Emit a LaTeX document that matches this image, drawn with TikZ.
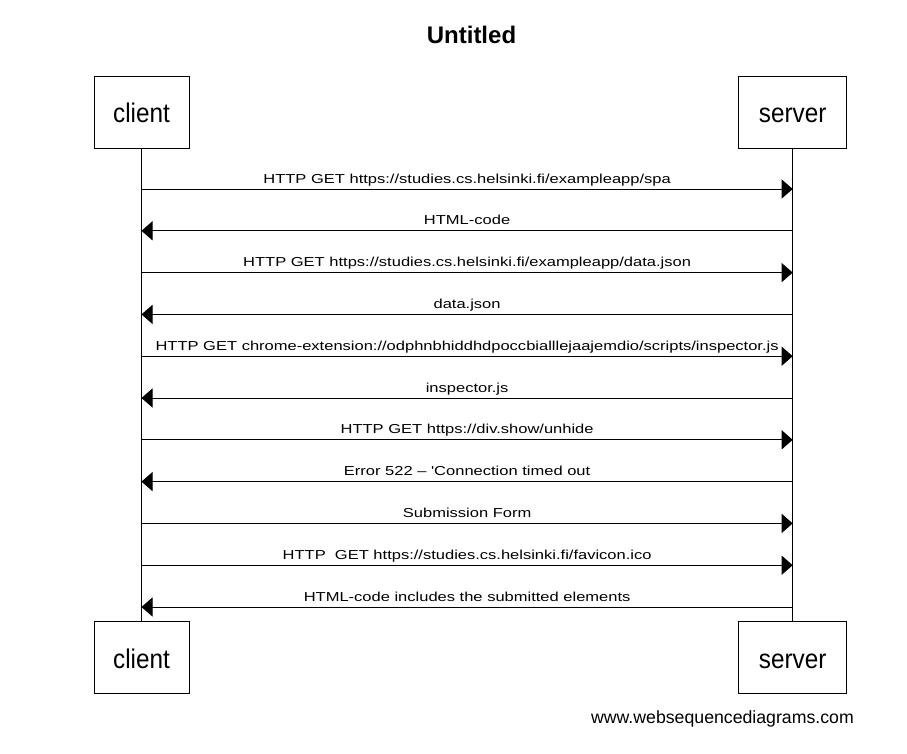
\documentclass[tikz,border=0pt]{standalone}
\usepackage{fontspec}
\setmainfont{Liberation Sans}
\newfontfamily\labfont[FakeStretch=1.27,Ligatures={TeXOff,NoCommon}]{Liberation Sans}
\newfontfamily\boxfont[FakeStretch=0.9]{Liberation Sans}
\usetikzlibrary{arrows.meta}
\begin{document}
\begin{tikzpicture}[x=1pt,y=-1pt,
  actor/.style={draw, line width=1pt, minimum width=95pt, minimum height=72pt, inner sep=0pt,
    font=\boxfont\fontsize{27}{30}\selectfont, text height=21.4pt, text depth=0pt},
  life/.style={draw, line width=1pt},
  msg/.style={line width=1pt, -{Triangle[length=11pt,width=19pt]}},
  lab/.style={anchor=base, inner sep=0pt, font=\labfont\fontsize{13}{15}\selectfont}]
\useasboundingbox (0,0) rectangle (907,753);
\fill[white] (0,0) rectangle (907,753);
\node[anchor=base, font=\fontsize{24}{28}\selectfont\bfseries] (title) at (471.5,43.3) {Untitled};
\node[actor] (ct) at (141.5,112) {client};
\node[actor, minimum width=108pt] (st) at (792.7,112) {server};
\node[actor] (cb) at (141.5,657.5) {client};
\node[actor, minimum width=108pt] (sb) at (792.7,657.5) {server};
\draw[life] (ct.south) -- (cb.north);
\draw[life] (st.south) -- (sb.north);
\foreach \i/\y/\d/\t in {
  1/189/r/{HTTP GET https://studies.cs.helsinki.fi/exampleapp/spa},
  2/230.8/l/{HTML-code},
  3/272.6/r/{HTTP GET https://studies.cs.helsinki.fi/exampleapp/data.json},
  4/314.4/l/{data.json},
  5/356.2/r/{HTTP GET chrome-extension://odphnbhiddhdpoccbialllejaajemdio/scripts/inspector.js},
  6/398/l/{inspector.js},
  7/439.8/r/{HTTP GET https://div.show/unhide},
  8/481.6/l/{Error 522 – 'Connection timed out},
  9/523.4/r/{Submission Form},
  10/565.2/r/{HTTP\ \ GET https://studies.cs.helsinki.fi/favicon.ico},
  11/607/l/{HTML-code includes the submitted elements}} {
  \coordinate (c\i) at (141.5,\y);
  \coordinate (s\i) at (792.7,\y);
  \node[lab] (m\i) at (467.1,\y-6) {\t};
  \if r\d
    \draw[msg] (c\i) -- (s\i);
  \else
    \draw[msg] (s\i) -- (c\i);
  \fi
}
\node[anchor=base east, inner sep=0pt, font=\fontsize{17.7}{20}\selectfont] (foot) at (854,723) {www.websequencediagrams.com};
\end{tikzpicture}
\end{document}
